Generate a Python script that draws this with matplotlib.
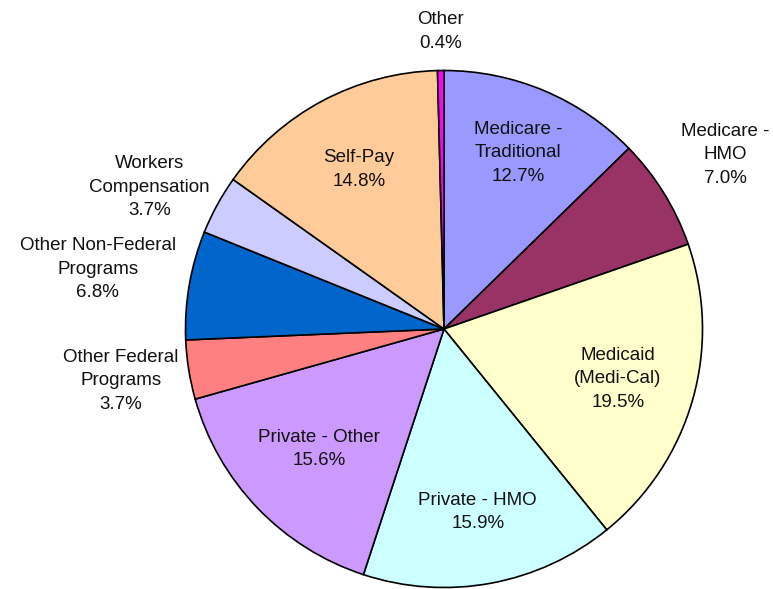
import matplotlib.pyplot as plt
import numpy as np

plt.rcParams["font.family"] = ["Liberation Sans", "DejaVu Sans"]

categories = [
    "Medicare -\nTraditional",
    "Medicare -\nHMO",
    "Medicaid\n(Medi-Cal)",
    "Private - HMO",
    "Private - Other",
    "Other Federal\nPrograms",
    "Other Non-Federal\nPrograms",
    "Workers\nCompensation",
    "Self-Pay",
    "Other",
]
shares = [12.7, 7.0, 19.5, 15.9, 15.6, 3.7, 6.8, 3.7, 14.8, 0.4]
colors = ["#9999FF", "#993366", "#FFFFCC", "#CCFFFF", "#CC99FF",
          "#FF8080", "#0066CC", "#CCCCFF", "#FFCC99", "#FF00FF"]

# label placement: fraction of radius, and a small angular nudge (deg)
label_dist = [0.74, 1.28, 0.70, 0.72, 0.67, 1.265, 1.36, 1.265, 0.70, 1.15]
label_nudge = [0, 0, 0, 0, 0, 0, 0, 3, 0, 0]

fig = plt.figure(figsize=(7.73, 5.89), dpi=100)
ax = fig.add_axes([0, 0, 1, 1])

cx, cy, R = 444, -329, 258.5
wedges, _ = ax.pie(shares, colors=colors, startangle=90, counterclock=False,
                   center=(cx, cy), radius=R,
                   wedgeprops=dict(edgecolor="black", linewidth=1.2))

for w, name, val, d, nd in zip(wedges, categories, shares, label_dist, label_nudge):
    mid = np.deg2rad((w.theta1 + w.theta2) / 2 + nd)
    x = cx + d * R * np.cos(mid)
    y = cy + d * R * np.sin(mid)
    ax.text(x, y, "%s\n%.1f%%" % (name, val), ha="center", va="center",
            fontsize=13.5, linespacing=1.5, color="#111111")

ax.set_xlim(0, 773)
ax.set_ylim(-589, 0)
ax.set_aspect("equal")
ax.axis("off")

fig.savefig("out.png", dpi=100)
